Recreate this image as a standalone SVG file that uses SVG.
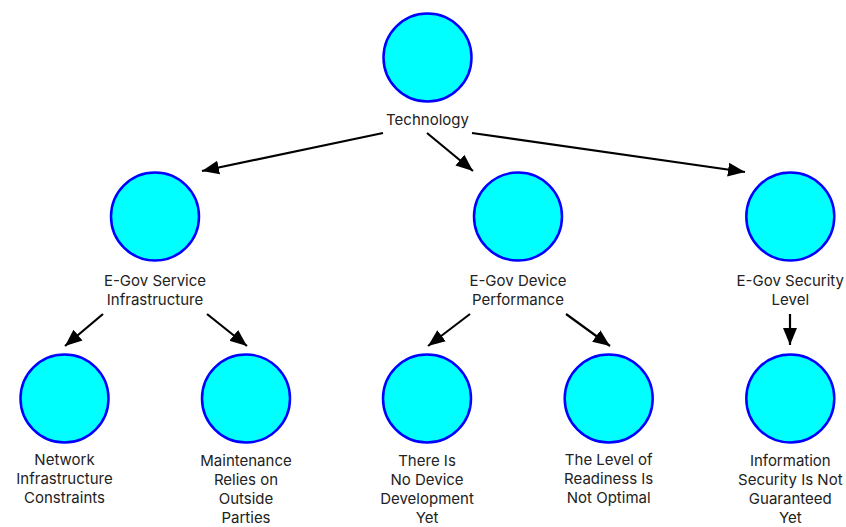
<svg xmlns="http://www.w3.org/2000/svg" width="846" height="527" viewBox="0 0 846 527">
<style>
.n{fill:#00ffff;stroke:#0000ff;stroke-width:2.5}
.t{font-family:Inter,"Noto Sans","Liberation Sans",sans-serif;font-size:15px;fill:#222;text-anchor:middle}
.c{stroke:#000;stroke-width:2.2;fill:none;marker-end:url(#ah)}
</style>
<defs>
<marker id="ah" markerUnits="userSpaceOnUse" markerWidth="18" markerHeight="15" refX="17" refY="7" orient="auto" viewBox="0 0 18 14">
<path d="M0,0 L17,7 L0,14 Z" fill="#000"/>
</marker>
</defs>
<rect width="846" height="527" fill="#fff"/>
<g id="connectors">
<line class="c" x1="383" y1="133" x2="202" y2="171"/>
<line class="c" x1="427" y1="133" x2="473" y2="171"/>
<line class="c" x1="472" y1="133" x2="745" y2="172"/>
<line class="c" x1="103" y1="314" x2="65" y2="346"/>
<line class="c" x1="207" y1="314" x2="247" y2="346"/>
<line class="c" x1="470" y1="314" x2="428" y2="346"/>
<line class="c" x1="566" y1="314" x2="610" y2="346"/>
<line class="c" x1="790" y1="314" x2="790" y2="345"/>
</g>
<g id="technology">
<circle class="n" cx="427.5" cy="57.5" r="44"/>
<text class="t" x="427.5" y="125">Technology</text>
</g>
<g id="egov-service">
<circle class="n" cx="155" cy="216.5" r="44"/>
<text class="t" x="155" y="286">E-Gov Service</text>
<text class="t" x="155" y="305">Infrastructure</text>
</g>
<g id="egov-device">
<circle class="n" cx="518" cy="216.5" r="44"/>
<text class="t" x="518" y="286">E-Gov Device</text>
<text class="t" x="518" y="305">Performance</text>
</g>
<g id="egov-security">
<circle class="n" cx="790.3" cy="216.5" r="44"/>
<text class="t" x="790.3" y="286">E-Gov Security</text>
<text class="t" x="790.3" y="305">Level</text>
</g>
<g id="network">
<circle class="n" cx="64.5" cy="398.5" r="44"/>
<text class="t" x="64.5" y="465">Network</text>
<text class="t" x="64.5" y="484">Infrastructure</text>
<text class="t" x="64.5" y="503">Constraints</text>
</g>
<g id="maintenance">
<circle class="n" cx="246" cy="398.5" r="44"/>
<text class="t" x="246" y="466">Maintenance</text>
<text class="t" x="246" y="485">Relies on</text>
<text class="t" x="246" y="504">Outside</text>
<text class="t" x="246" y="523">Parties</text>
</g>
<g id="no-device">
<circle class="n" cx="427" cy="398.5" r="44"/>
<text class="t" x="427" y="466">There Is</text>
<text class="t" x="427" y="485">No Device</text>
<text class="t" x="427" y="504">Development</text>
<text class="t" x="427" y="523">Yet</text>
</g>
<g id="readiness">
<circle class="n" cx="608.7" cy="398.5" r="44"/>
<text class="t" x="608.7" y="465">The Level of</text>
<text class="t" x="608.7" y="484">Readiness Is</text>
<text class="t" x="608.7" y="503">Not Optimal</text>
</g>
<g id="info-security">
<circle class="n" cx="790.3" cy="398.5" r="44"/>
<text class="t" x="790.3" y="466">Information</text>
<text class="t" x="790.3" y="485">Security Is Not</text>
<text class="t" x="790.3" y="504">Guaranteed</text>
<text class="t" x="790.3" y="523">Yet</text>
</g>
</svg>
